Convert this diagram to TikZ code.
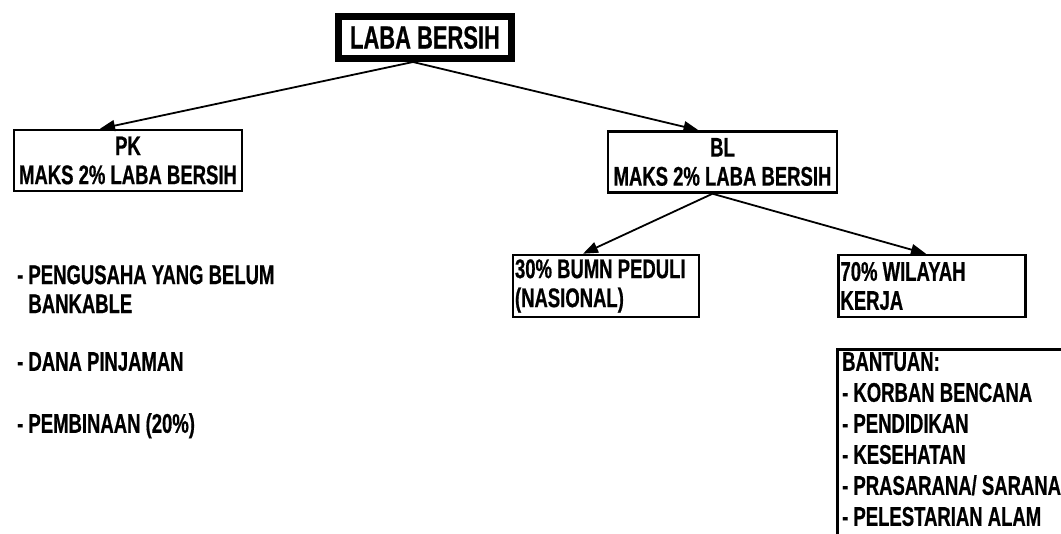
\documentclass[tikz,border=0pt]{standalone}
\usepackage{fontspec}
\newfontfamily\chartfont{Liberation Sans}[FakeStretch=0.685, BoldFeatures={FakeBold=0.6}]
\usetikzlibrary{arrows.meta}

\begin{document}
\begin{tikzpicture}[
  x=1pt, y=-1pt,
  font=\chartfont\bfseries\fontsize{27}{29}\selectfont,
  box/.style={draw, line width=2.5pt, inner sep=2pt, minimum height=61pt},
  txt/.style={anchor=north west, inner sep=0pt, align=flush left},
  arr/.style={line width=1.8pt, -{Triangle[length=15pt, width=11pt]}}
]
\useasboundingbox (0,0) rectangle (1061,534);
\clip (0,0) rectangle (1061,534);

% top of the chart
\node[draw, line width=7pt, minimum width=173pt, minimum height=42pt, inner sep=0pt,
  font=\chartfont\bfseries\fontsize{32}{35}\selectfont] (laba) at (425,37.5) {LABA BERSIH};

% second level
\node[box, minimum width=228pt, align=center] (pk) at (128,160.5) {PK\\MAKS 2\% LABA BERSIH};
\node[box, minimum width=229pt, align=center] (bl) at (722.5,162) {BL\\MAKS 2\% LABA BERSIH};

% BL split
\node[box, text width=182pt, minimum height=62pt, align=flush left] (bumn) at (606,286) {30\% BUMN PEDULI\\(NASIONAL)};
\node[box, text width=183pt, minimum height=62pt, align=flush left] (wil) at (932,286) {70\% WILAYAH\\KERJA};

% PK items
\node[txt] (usaha) at (17,265) {- PENGUSAHA YANG BELUM\\\phantom{- }BANKABLE};
\node[txt] (dana) at (17,352) {- DANA PINJAMAN};
\node[txt] (bina) at (17,413) {- PEMBINAAN (20\%)};

% bantuan list
\node[txt, font=\chartfont\bfseries\fontsize{27}{31}\selectfont] (bantuan) at (842,352)
  {BANTUAN:\\- KORBAN BENCANA\\- PENDIDIKAN\\- KESEHATAN\\- PRASARANA/ SARANA\\- PELESTARIAN ALAM};
\draw[line width=2.5pt] ([xshift=-4.5pt, yshift=2.5pt]bantuan.north west) rectangle ++(300,300);

% arrows
\coordinate (labafoot) at ([xshift=-12pt]laba.south);
\coordinate (blfoot) at ([xshift=-10pt]bl.south);
\draw[arr] (labafoot) -- ([xshift=-28pt]pk.north);
\draw[arr] (labafoot) -- ([xshift=-24pt]bl.north);
\draw[arr] (blfoot) -- ([xshift=-23pt]bumn.north);
\draw[arr] (blfoot) -- ([xshift=-6pt]wil.north);
\end{tikzpicture}
\end{document}
